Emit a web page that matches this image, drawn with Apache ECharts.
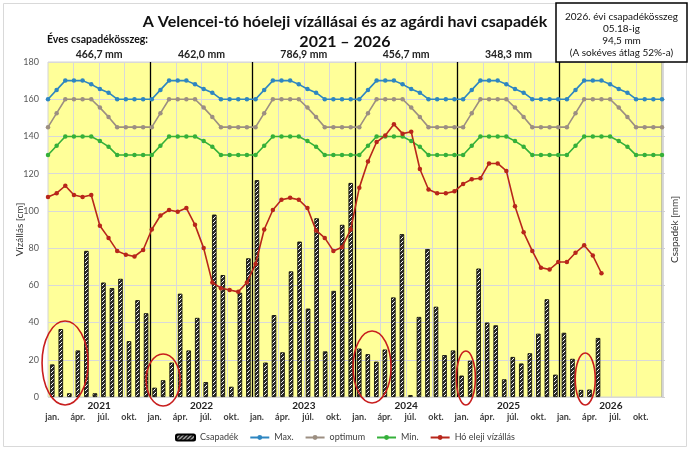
<!DOCTYPE html>
<html>
<head>
<meta charset="utf-8">
<title>Velencei-tó vízállás és csapadék</title>
<script src="https://cdn.jsdelivr.net/npm/echarts@6/dist/echarts.min.js"></script>
<style>
html, body { margin: 0; padding: 0; background: #fff; }
#chart { width: 690px; height: 450px; }
</style>
</head>
<body>
<div id="chart"></div>
<script>
//évek
var years = ['2021', '2022', '2023', '2024', '2025', '2026'];
//hónapnevek
var monthNames = ['jan.', 'febr.', 'márc.', 'ápr.', 'máj.', 'jún.', 'júl.', 'aug.', 'szept.', 'okt.', 'nov.', 'dec.'];
//tengelyen kiírt hónapok
var shownMonths = ['jan.', 'ápr.', 'júl.', 'okt.'];
//éves csapadékösszeg
var yearSums = ['466,7 mm', '462,0 mm', '786,9 mm', '456,7 mm', '348,3 mm', ''];
//havi csapadék [mm], 2021. jan. - 2026. máj.
var precip = [
    17.5, 36.5, 2, 25, 78.5, 2, 61.5, 58.5, 63.5, 30, 52, 45,
    5, 9, 18.5, 55.5, 25, 42.5, 8, 98, 65.5, 5.5, 56, 74.5,
    116.5, 18.5, 44, 24, 67.5, 83.5, 47.5, 96, 24.5, 57, 92.5, 115,
    26, 23, 19, 25.5, 53.5, 87.5, 1, 43, 79.5, 48.5, 22.5, 25,
    11.5, 19.5, 69, 40, 38.5, 9.5, 21.5, 18, 23.5, 34, 52.5, 12,
    34.5, 20.5, 3.8, 4, 31.7
];
//hó eleji vízállás [cm]
var level = [
    107.5, 109.5, 113.5, 108.5, 107.5, 108.5, 92, 85.5, 78.5, 76.5, 75.5, 79,
    90, 97.5, 100.5, 99.5, 101.5, 92.5, 80, 61.5, 58.5, 57.5, 56.5, 61.5,
    71.5, 90, 100.5, 106, 107, 106, 101.5, 89.5, 85.5, 78.5, 80.5, 90,
    112.5, 126.5, 137, 140.5, 146.5, 141.5, 142.5, 122.5, 111.5, 109.5, 109.5, 110.5,
    114.5, 117, 117.5, 125.5, 125.5, 121.5, 102.5, 88.5, 78.5, 69.5, 68.5, 72.5,
    72.5, 77.5, 81.5, 76, 66.5
];
//szabályozási szintek [cm]
var maxLevel = [
    160, 165, 170, 170, 170, 168, 165.5, 163.5, 160, 160, 160, 160,
    160, 165, 170, 170, 170, 168, 165.5, 163.5, 160, 160, 160, 160,
    160, 165, 170, 170, 170, 168, 165.5, 163.5, 160, 160, 160, 160,
    160, 165, 170, 170, 170, 168, 165.5, 163.5, 160, 160, 160, 160,
    160, 165, 170, 170, 170, 168, 165.5, 163.5, 160, 160, 160, 160,
    160, 165, 170, 170, 170, 168, 165.5, 163.5, 160, 160, 160, 160
];
var optLevel = [
    145, 152.5, 160, 160, 160, 160, 155.5, 150.5, 145, 145, 145, 145,
    145, 152.5, 160, 160, 160, 160, 155.5, 150.5, 145, 145, 145, 145,
    145, 152.5, 160, 160, 160, 160, 155.5, 150.5, 145, 145, 145, 145,
    145, 152.5, 160, 160, 160, 160, 155.5, 150.5, 145, 145, 145, 145,
    145, 152.5, 160, 160, 160, 160, 155.5, 150.5, 145, 145, 145, 145,
    145, 152.5, 160, 160, 160, 160, 155.5, 150.5, 145, 145, 145, 145
];
var minLevel = [
    130, 135, 140, 140, 140, 140, 137.5, 134.5, 130, 130, 130, 130,
    130, 135, 140, 140, 140, 140, 137.5, 134.5, 130, 130, 130, 130,
    130, 135, 140, 140, 140, 140, 137.5, 134.5, 130, 130, 130, 130,
    130, 135, 140, 140, 140, 140, 137.5, 134.5, 130, 130, 130, 130,
    130, 135, 140, 140, 140, 140, 137.5, 134.5, 130, 130, 130, 130,
    130, 135, 140, 140, 140, 140, 137.5, 134.5, 130, 130, 130, 130
];
//jobb felső doboz
var infoLines = ['2026. évi csapadékösszeg', '05.18-ig', '94,5 mm', '(A sokéves átlag 52%-a)'];
//bekarikázott hónapok (első, utolsó index)
var circled = [[0, 3], [12, 14], [36, 39], [48, 49], [62, 63]];

var FONT = 'Lato, "Liberation Sans", sans-serif';

//kategóriák
var months = [];
years.forEach(function (y) {
    monthNames.forEach(function (m) {
        months.push(m + ' ' + y);
    });
});

//sraffozott minta az oszlopokhoz
function hatch() {
    var c = document.createElement('canvas');
    c.width = 4;
    c.height = 4;
    var ctx = c.getContext('2d');
    ctx.fillStyle = '#2b2b2b';
    ctx.fillRect(0, 0, 4, 4);
    ctx.strokeStyle = '#ffffff';
    ctx.lineWidth = 1;
    ctx.beginPath();
    ctx.moveTo(-1, 5);
    ctx.lineTo(5, -1);
    ctx.moveTo(3, 5);
    ctx.lineTo(5, 3);
    ctx.stroke();
    return c;
}

function lineSeries(name, data, color) {
    return {
        name: name,
        type: 'line',
        xAxisIndex: 1,
        yAxisIndex: 0,
        data: data,
        symbol: 'circle',
        symbolSize: 4.5,
        itemStyle: {color: color},
        lineStyle: {color: color, width: 1.6}
    };
}

var chart = echarts.init(document.getElementById('chart'));

chart.setOption({
    animation: false,
    textStyle: {fontFamily: FONT},
    title: [{
        text: 'A Velencei-tó hóeleji vízállásai és az agárdi havi csapadék',
        left: 'center',
        top: 9,
        textStyle: {fontFamily: FONT, fontSize: 16, fontWeight: 'bold', color: '#111'}
    }, {
        text: '2021 – 2026',
        left: 'center',
        top: 29,
        textStyle: {fontFamily: FONT, fontSize: 16, fontWeight: 'bold', color: '#111'}
    }],
    grid: {
        left: 48, right: 28, top: 62, bottom: 53,
        outerBoundsMode: 'none',
        show: true,
        backgroundColor: '#ffff99',
        borderColor: '#d4d4d4',
        borderWidth: 1
    },
    legend: {
        top: 428,
        left: 'center',
        itemWidth: 19,
        itemHeight: 6,
        itemGap: 11,
        textStyle: {fontFamily: FONT, fontSize: 9, color: '#404040'},
        data: ['Csapadék', 'Max.', 'optimum', 'Min.', 'Hó eleji vízállás']
    },
    xAxis: [{
        //oszlopok tengelye
        type: 'category',
        data: months,
        boundaryGap: true,
        position: 'bottom',
        axisLine: {show: false},
        axisTick: {show: false},
        axisLabel: {
            interval: function (i, v) {
                return shownMonths.indexOf(v.split(' ')[0]) >= 0;
            },
            formatter: function (v) {
                return v.split(' ')[0];
            },
            margin: 16,
            fontSize: 9,
            fontWeight: 'bold',
            color: '#404040'
        },
        splitLine: {
            show: true,
            interval: function (i) {
                return i % 3 === 0 && i % 12 !== 0;
            },
            lineStyle: {color: '#d9d9d9'}
        }
    }, {
        //vonalak tengelye
        type: 'category',
        data: months,
        boundaryGap: false,
        show: false
    }, {
        //évek
        type: 'category',
        data: years,
        boundaryGap: true,
        position: 'bottom',
        axisLine: {show: false},
        axisTick: {show: false},
        axisLabel: {margin: 4, fontSize: 10, fontWeight: 'bold', color: '#222'},
        splitLine: {
            show: true,
            interval: function (i) {
                return i > 0;
            },
            lineStyle: {color: '#000', width: 1.3}
        }
    }, {
        //éves összegek
        type: 'category',
        data: years,
        boundaryGap: true,
        position: 'top',
        axisLine: {show: false},
        axisTick: {show: false},
        axisLabel: {
            margin: 2,
            fontSize: 10.5,
            fontWeight: 'bold',
            color: '#222',
            formatter: function (v, i) {
                return yearSums[i];
            }
        }
    }],
    yAxis: [{
        type: 'value',
        min: 0,
        max: 180,
        interval: 20,
        name: 'Vízállás [cm]',
        nameLocation: 'middle',
        nameGap: 23,
        nameMoveOverlap: false,
        nameTextStyle: {fontFamily: FONT, fontSize: 10, color: '#333'},
        axisLine: {show: false},
        axisTick: {show: false},
        axisLabel: {fontSize: 9, color: '#595959', margin: 9},
        splitLine: {lineStyle: {color: '#d9d9d9'}}
    }, {
        type: 'value',
        position: 'right',
        min: 0,
        max: 180,
        interval: 20,
        name: 'Csapadék [mm]',
        nameLocation: 'middle',
        nameRotate: 90,
        nameGap: 8,
        nameMoveOverlap: false,
        nameTextStyle: {fontFamily: FONT, fontSize: 10, color: '#333'},
        axisLine: {show: true, lineStyle: {color: '#d4d4d4'}},
        axisTick: {show: true, length: 3, lineStyle: {color: '#cfcfcf'}},
        axisLabel: {show: false},
        splitLine: {show: false}
    }],
    series: [{
        name: 'Csapadék',
        type: 'bar',
        xAxisIndex: 0,
        yAxisIndex: 1,
        data: precip,
        barWidth: 4.5,
        itemStyle: {
            color: {image: hatch(), repeat: 'repeat'},
            borderColor: '#000',
            borderWidth: 0.8
        }
    },
        lineSeries('Max.', maxLevel, '#2e86c1'),
        lineSeries('optimum', optLevel, '#9c8f82'),
        lineSeries('Min.', minLevel, '#35b03a'),
        lineSeries('Hó eleji vízállás', level, '#b8261b')
    ]
});

//feliratok, doboz, karikák
function drawExtras() {
    var ringSize = [[23, 42, 363], [17, 26, 380], [19, 36, 367], [9.5, 27, 378], [10, 26, 379]];
    var rings = circled.map(function (r, i) {
        var x0 = chart.convertToPixel({xAxisIndex: 0}, months[r[0]]);
        var x1 = chart.convertToPixel({xAxisIndex: 0}, months[r[1]]);
        return {
            type: 'ellipse',
            z: 100,
            shape: {cx: (x0 + x1) / 2, cy: ringSize[i][2], rx: ringSize[i][0], ry: ringSize[i][1]},
            style: {fill: null, stroke: '#c81e1e', lineWidth: 1.6}
        };
    });
    var boxTexts = infoLines.map(function (t, i) {
        return {
            type: 'text',
            x: 621.5,
            y: 16.5 + i * 12.2,
            z: 101,
            style: {
                text: t,
                fontFamily: FONT,
                fontSize: 10,
                fill: '#111',
                align: 'center',
                verticalAlign: 'middle'
            }
        };
    });
    chart.setOption({
        graphic: [{
            type: 'rect',
            z: -10,
            shape: {x: 3.5, y: 3.5, width: 683, height: 443},
            style: {fill: null, stroke: '#d9d9d9', lineWidth: 1}
        }, {
            type: 'text',
            x: 47,
            y: 40,
            style: {
                text: 'Éves csapadékösszeg:',
                fontFamily: FONT,
                fontSize: 10.5,
                fontWeight: 'bold',
                fill: '#111',
                verticalAlign: 'middle'
            }
        }, {
            type: 'rect',
            z: 100,
            shape: {x: 556, y: 3, width: 131, height: 59},
            style: {fill: '#fff', stroke: '#000', lineWidth: 1.5}
        }].concat(boxTexts, rings)
    });
}
drawExtras();
</script>
</body>
</html>
